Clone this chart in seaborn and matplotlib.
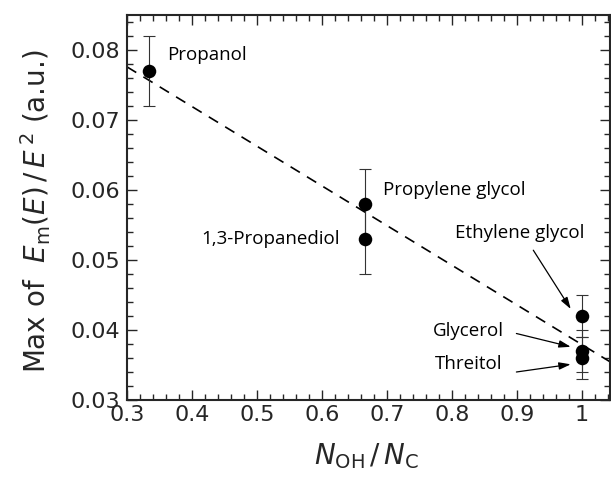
import numpy as np
import pandas as pd
import seaborn as sns
import matplotlib
matplotlib.use("Agg")
import matplotlib.pyplot as plt
from matplotlib.ticker import MultipleLocator, FixedFormatter, FixedLocator

# OH / C ratio, peak value and uncertainty for each alcohol
compounds = ["Propanol", "Propylene glycol", "1,3-Propanediol",
             "Ethylene glycol", "Glycerol", "Threitol"]
ratio = [1 / 3, 2 / 3, 2 / 3, 1.0, 1.0, 1.0]
peak = [0.077, 0.058, 0.053, 0.042, 0.037, 0.036]
err = [0.005, 0.005, 0.005, 0.003, 0.003, 0.003]

xticks = [0.3, 0.4, 0.5, 0.6, 0.7, 0.8, 0.9, 1.0]
xtick_labels = ["0.3", "0.4", "0.5", "0.6", "0.7", "0.8", "0.9", "1"]
yticks = [0.03, 0.04, 0.05, 0.06, 0.07, 0.08]
ytick_labels = ["0.03", "0.04", "0.05", "0.06", "0.07", "0.08"]

df = pd.DataFrame({"compound": compounds, "ratio": ratio,
                   "peak": peak, "err": err})

sns.set_style("ticks")
plt.rcParams["font.family"] = ["DejaVu Sans"]
plt.rcParams["mathtext.fontset"] = "dejavusans"

fig = plt.figure(figsize=(6.11, 4.83), dpi=100)
ax = fig.add_axes([127 / 611, 1 - 400 / 483, 483 / 611, 385 / 483])
ax.set_xlim(0.3, 1.043)
ax.set_ylim(0.03, 0.085)

# error bars
ax.errorbar(df["ratio"], df["peak"], yerr=df["err"], fmt="none",
            ecolor="#333333", elinewidth=0.8, capsize=4.5, capthick=0.8,
            zorder=2)

# linear fit across the whole axis
sns.regplot(data=df, x="ratio", y="peak", ax=ax, scatter=False, ci=None,
            truncate=False,
            line_kws=dict(color="black", lw=1.2, ls=(0, (6.5, 5)), zorder=1))

sns.scatterplot(data=df, x="ratio", y="peak", ax=ax, color="black", s=95,
                edgecolor="black", linewidth=0, zorder=3, legend=False)

ax.set_xlim(0.3, 1.043)
ax.set_ylim(0.03, 0.085)

ann_font = dict(fontsize=13.5, family=["Open Sans", "DejaVu Sans"],
                color="black")
ax.text(0.3615, 0.0793, "Propanol", ha="left", va="center", **ann_font)
ax.text(0.694, 0.0600, "Propylene glycol", ha="left", va="center", **ann_font)
ax.text(0.627, 0.0530, "1,3-Propanediol", ha="right", va="center", **ann_font)
ax.text(1.004, 0.0538, "Ethylene glycol", ha="right", va="center", **ann_font)
ax.text(0.771, 0.0399, "Glycerol", ha="left", va="center", **ann_font)
ax.text(0.773, 0.0352, "Threitol", ha="left", va="center", **ann_font)

arrow = dict(arrowstyle="-|>,head_length=0.7,head_width=0.22", color="black",
             lw=0.9, shrinkA=0, shrinkB=0)
ax.annotate("", xy=(0.9826, 0.0430), xytext=(0.925, 0.0514), arrowprops=arrow)
ax.annotate("", xy=(0.9826, 0.0376), xytext=(0.899, 0.0395), arrowprops=arrow)
ax.annotate("", xy=(0.9826, 0.0351), xytext=(0.899, 0.0340), arrowprops=arrow)

ax.xaxis.set_major_locator(FixedLocator(xticks))
ax.xaxis.set_major_formatter(FixedFormatter(xtick_labels))
ax.yaxis.set_major_locator(FixedLocator(yticks))
ax.yaxis.set_major_formatter(FixedFormatter(ytick_labels))
ax.xaxis.set_minor_locator(MultipleLocator(0.02))
ax.yaxis.set_minor_locator(MultipleLocator(0.002))
ax.tick_params(which="both", direction="in", top=True, right=True,
               width=1.0, labelsize=16)
ax.tick_params(which="major", length=7)
ax.tick_params(which="minor", length=4)
ax.tick_params(axis="x", which="major", pad=3.5)
ax.tick_params(axis="y", which="major", pad=5)
for s in ax.spines.values():
    s.set_linewidth(1.5)

ax.set_xlabel(r"$N_{\mathrm{OH}}\,/\,N_{\mathrm{C}}$", fontsize=20)
ax.set_ylabel(r"Max of  $E_{\mathrm{m}}(E)\,/\,E^{\,2}$ (a.u.)", fontsize=20)
ax.xaxis.set_label_coords(0.495, -0.108)
ax.yaxis.set_label_coords(-0.153, 0.49)

fig.savefig("out.png", dpi=100)
